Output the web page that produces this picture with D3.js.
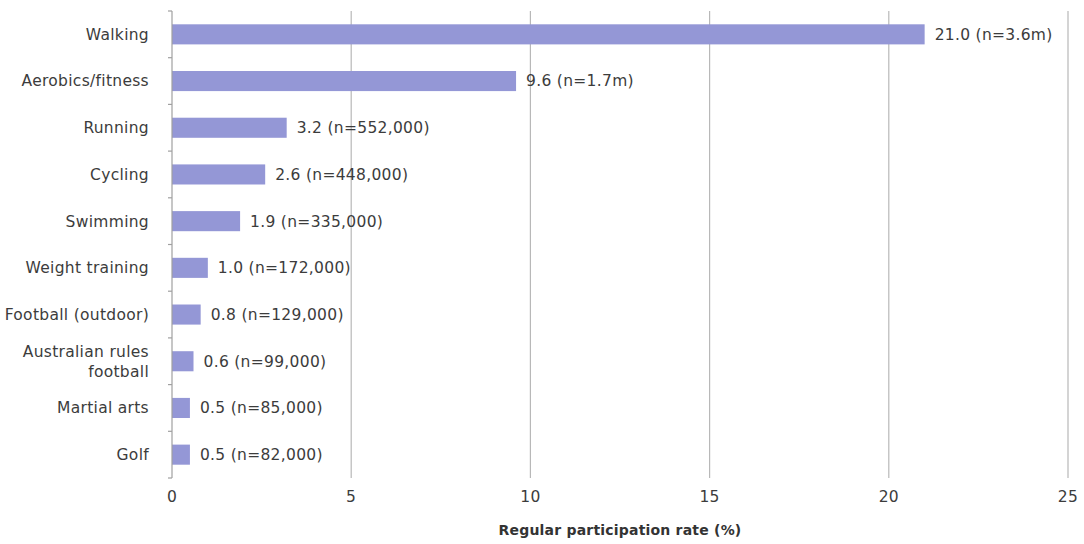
<!DOCTYPE html>
<html>
<head>
<meta charset="utf-8">
<script src="https://cdn.jsdelivr.net/npm/d3@7"></script>
<style>
  html, body { margin: 0; padding: 0; background: #fff; }
  svg { display: block; font-family: "DejaVu Sans", "Liberation Sans", Arial, sans-serif; }
</style>
</head>
<body>
<svg id="chart" width="1084" height="544"></svg>
<script>
// Regular participation in sport and physical activity
const activities = ["Walking", "Aerobics/fitness", "Running", "Cycling", "Swimming",
  "Weight training", "Football (outdoor)", "Australian rules\nfootball", "Martial arts", "Golf"];
const rates = [21.0, 9.6, 3.2, 2.6, 1.9, 1.0, 0.8, 0.6, 0.5, 0.5];
const counts = ["3.6m", "1.7m", "552,000", "448,000", "335,000", "172,000", "129,000", "99,000", "85,000", "82,000"];
const xTicks = [0, 5, 10, 15, 20, 25];
const xTitle = "Regular participation rate (%)";

const svg = d3.select("#chart");
const plot = { left: 172, right: 1068, top: 11, bottom: 478 };
const textColor = "#3c3c3c";
const fontSize = 15.5;
const spacing = "0.3px";

const x = d3.scaleLinear().domain([0, 25]).range([plot.left, plot.right]);
const y = d3.scaleBand().domain(activities).range([plot.top, plot.bottom])
  .paddingInner(0.57).paddingOuter(0.285);

// vertical gridlines
svg.append("g").selectAll("line").data(xTicks.filter(d => d > 0)).join("line")
  .attr("x1", d => x(d)).attr("x2", d => x(d))
  .attr("y1", plot.top).attr("y2", plot.bottom)
  .attr("stroke", "#b8b8b8").attr("stroke-width", 1.2);

// bars
svg.append("g").selectAll("rect").data(activities).join("rect")
  .attr("x", x(0))
  .attr("y", d => y(d))
  .attr("width", (d, i) => x(rates[i]) - x(0))
  .attr("height", y.bandwidth())
  .attr("fill", "#9497d6");

// value labels
svg.append("g").selectAll("text").data(activities).join("text")
  .attr("x", (d, i) => x(rates[i]) + 10)
  .attr("y", d => y(d) + y.bandwidth() / 2)
  .attr("dy", "0.35em")
  .attr("font-size", fontSize)
  .attr("letter-spacing", spacing)
  .attr("fill", textColor)
  .text((d, i) => `${rates[i].toFixed(1)} (n=${counts[i]})`);

// category axis with ticks at band boundaries
const yAxis = svg.append("g");
yAxis.append("line")
  .attr("x1", plot.left).attr("x2", plot.left).attr("y1", plot.top).attr("y2", plot.bottom)
  .attr("stroke", "#a0a0a0").attr("stroke-width", 1.2);
const bounds = d3.range(activities.length + 1).map(i => plot.top + i * y.step());
yAxis.selectAll("line.tick").data(bounds).join("line")
  .attr("class", "tick")
  .attr("x1", plot.left - 4).attr("x2", plot.left)
  .attr("y1", d => d).attr("y2", d => d)
  .attr("stroke", "#a0a0a0").attr("stroke-width", 1.2);

yAxis.selectAll("text.cat").data(activities).join("text")
  .attr("class", "cat")
  .attr("text-anchor", "end")
  .attr("font-size", fontSize)
  .attr("letter-spacing", spacing)
  .attr("fill", textColor)
  .each(function(d) {
    const lines = d.split("\n");
    const cy = y(d) + y.bandwidth() / 2;
    const lh = 20;
    const t = d3.select(this);
    lines.forEach((ln, k) => {
      t.append("tspan")
        .attr("x", 149)
        .attr("y", cy + (k - (lines.length - 1) / 2) * lh)
        .attr("dy", "0.35em")
        .text(ln);
    });
  });

// value axis labels
svg.append("g").selectAll("text").data(xTicks).join("text")
  .attr("x", d => x(d))
  .attr("y", 497)
  .attr("dy", "0.35em")
  .attr("text-anchor", "middle")
  .attr("font-size", fontSize)
  .attr("letter-spacing", spacing)
  .attr("fill", textColor)
  .text(d => d);

svg.append("text")
  .attr("x", (plot.left + plot.right) / 2)
  .attr("y", 530)
  .attr("dy", "0.35em")
  .attr("text-anchor", "middle")
  .attr("font-size", 14)
  .attr("font-weight", "bold")
  .attr("letter-spacing", "0.2px")
  .attr("fill", "#333")
  .text(xTitle);
</script>
</body>
</html>
